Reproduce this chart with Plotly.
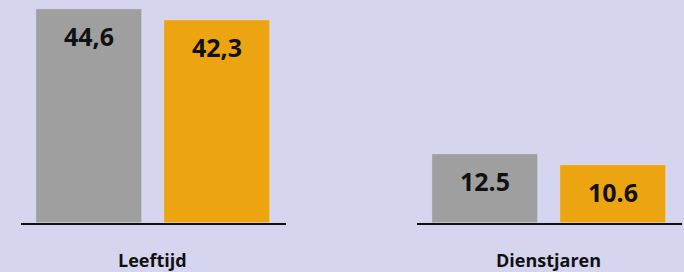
import plotly.graph_objects as go
from plotly.subplots import make_subplots

categories = ["Leeftijd", "Dienstjaren"]
series_a = [44.6, 12.5]
series_b = [42.3, 10.6]
labels_a = ["44,6", "12.5"]
labels_b = ["42,3", "10.6"]

GRAY = "#9f9f9f"
ORANGE = "#eca510"
BG = "#d5d5f0"
FONT = "Open Sans"

fig = make_subplots(rows=1, cols=2)
yranges = [[0, 46.55], [0, 40.5]]
for i, cat in enumerate(categories):
    col = i + 1
    fig.add_trace(go.Bar(x=[0], y=[series_a[i]], marker_color=GRAY, width=0.828,
                         showlegend=False, hoverinfo="skip"), row=1, col=col)
    fig.add_trace(go.Bar(x=[1], y=[series_b[i]], marker_color=ORANGE, width=0.828,
                         showlegend=False, hoverinfo="skip"), row=1, col=col)
    xref = "x" if i == 0 else "x2"
    yref = "y" if i == 0 else "y2"
    for xv, yv, lab in [(0, series_a[i], labels_a[i]), (1, series_b[i], labels_b[i])]:
        fig.add_annotation(x=xv, y=yv, xref=xref, yref=yref, text=lab, showarrow=False,
                           yshift=-27, yanchor="middle",
                           font=dict(family=FONT, size=25, color="#111111", weight="bold"))
    fig.add_annotation(x=0.5, y=0, xref=xref, yref=f"{yref} domain", text=cat, showarrow=False,
                       yshift=-37, yanchor="middle",
                       font=dict(family=FONT, size=18, color="#111111", weight="bold"))

fig.update_xaxes(range=[-0.531, 1.539], showticklabels=False, showgrid=False, zeroline=False,
                 showline=True, linecolor="#111111", linewidth=1.5, ticks="")
fig.update_yaxes(showticklabels=False, showgrid=False, zeroline=False, showline=False)
fig.update_layout(
    xaxis=dict(domain=[21 / 684, 286 / 684]),
    xaxis2=dict(domain=[417 / 684, 682 / 684]),
    yaxis=dict(range=yranges[0]),
    yaxis2=dict(range=yranges[1]),
    width=684, height=272,
    margin=dict(l=0, r=0, t=0, b=49),
    paper_bgcolor=BG, plot_bgcolor=BG,
    bargap=0,
)
fig.write_html("out.html", config={"displayModeBar": False},
               post_script="document.body.style.margin='0';document.body.style.background='%s';" % BG)
